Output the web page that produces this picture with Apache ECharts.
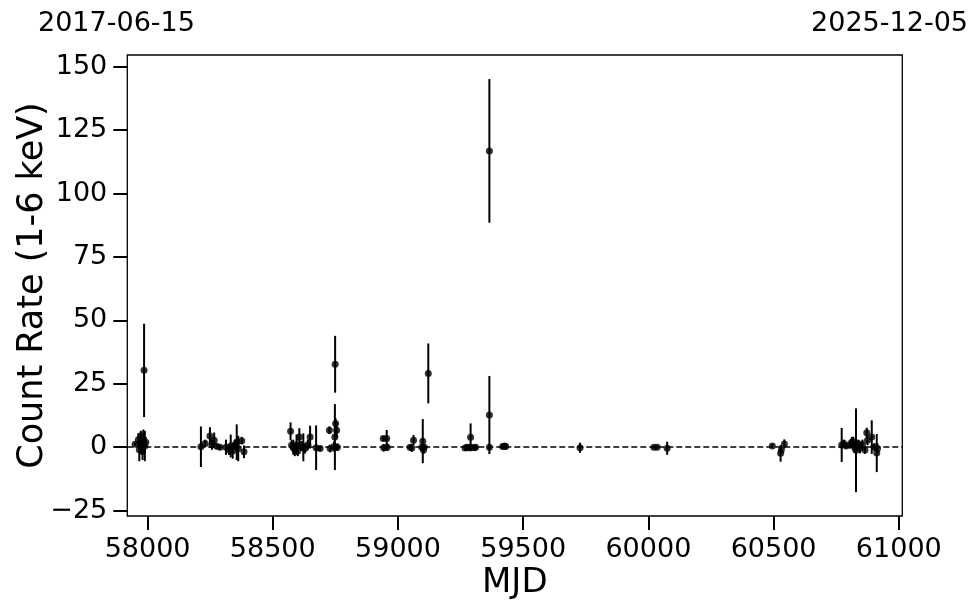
<!DOCTYPE html>
<html>
<head>
<meta charset="utf-8">
<script src="https://cdn.jsdelivr.net/npm/echarts@6/dist/echarts.min.js"></script>
<style>html,body{margin:0;padding:0;background:#fff;}#chart{width:980px;height:613px;}</style>
</head>
<body>
<div id="chart"></div>
<script>
// Observation times (MJD)
const mjd = [
  57950, 57963, 57967, 57970, 57973, 57976, 57980, 57983, 57986, 57989, 57993,
  58213, 58230, 58249, 58257, 58266, 58276, 58289,
  58313, 58325, 58332, 58340, 58349, 58356, 58362, 58376, 58385,
  58571, 58575, 58582, 58588, 58595, 58600, 58606, 58614, 58622, 58629, 58640, 58649, 58673, 58689,
  58726, 58729, 58745, 58748, 58749, 58751, 58755, 58758,
  58941, 58943, 58955, 58957,
  59048, 59055, 59062, 59095, 59099, 59102, 59105, 59121,
  59268, 59275, 59281, 59290, 59292, 59304, 59310,
  59365, 59365, 59365, 59418, 59425, 59430,
  59727, 60022, 60035, 60075,
  60495, 60528, 60531, 60543,
  60772, 60781, 60790, 60805, 60812, 60818, 60823, 60829, 60838, 60845, 60855, 60865, 60872, 60875, 60892, 60902, 60912, 60915
];
// Count rate (1-6 keV)
const rate = [
  1.2, 3.0, -1.0, 1.5, 4.5, 0.0, -1.5, 2.0, 30.3, 0.5, 2.0,
  0.2, 1.5, 4.4, 1.0, 2.8, 0.4, 0.0,
  0.0, -1.0, 0.5, -1.5, 1.0, 2.0, -0.5, 2.6, -1.8,
  6.3, 0.8, 0.0, -1.0, 1.0, -1.5, 4.0, 0.5, 0.0, -0.5, 1.0, 4.0, -0.2, -0.5,
  6.7, -0.5, 0.3, 4.0, 32.7, 9.4, 6.7, 0.0,
  3.4, -0.2, 3.4, 0.0,
  0.0, -0.3, 2.8, 0.0, 2.4, -1.1, 0.0, 29.1,
  -0.3, 0.0, -0.2, 3.9, 0.0, -0.2, 0.0,
  116.8, 12.7, 0.0, 0.3, 0.5, 0.3,
  -0.2, 0.0, 0.0, -0.4,
  0.5, -2.4, -1.1, 1.3,
  0.9, 1.5, 0.5, 1.0, 2.0, 2.2, 0.0, -1.2, 1.5, -0.4, 1.0, -1.1, 5.7, 2.8, 4.0, 0.1, -2.3, -0.5
];
// 1-sigma errors
const rateErr = [
  0.6, 2.5, 4.5, 3.0, 2.0, 3.0, 3.5, 5.0, 18.4, 6.0, 2.0,
  8.0, 1.5, 3.5, 2.0, 3.0, 1.0, 1.0,
  3.0, 2.0, 4.5, 3.0, 2.0, 7.0, 5.0, 1.5, 2.5,
  3.5, 2.0, 3.0, 2.5, 4.0, 2.0, 3.5, 2.0, 5.5, 2.0, 2.0, 4.5, 8.8, 1.0,
  1.5, 1.5, 2.0, 13.0, 11.2, 2.0, 3.0, 1.5,
  1.0, 1.5, 3.4, 1.5,
  1.0, 1.5, 2.0, 1.0, 8.7, 1.5, 1.0, 11.8,
  1.0, 1.0, 1.0, 5.5, 1.0, 0.8, 0.8,
  28.3, 15.4, 1.0, 1.0, 1.0, 1.2,
  2.0, 0.6, 0.6, 2.6,
  0.8, 3.3, 1.0, 1.8,
  6.7, 1.5, 1.0, 1.5, 2.0, 2.0, 2.0, 16.5, 1.5, 2.0, 2.0, 1.5, 2.0, 2.0, 6.6, 1.5, 7.5, 2.0
];
const xTicks = [58000, 58500, 59000, 59500, 60000, 60500, 61000];
const yTicks = [-25, 0, 25, 50, 75, 100, 125, 150];
const xRange = [57919, 61014];
const yRange = [-27.1, 154.6];
const dateLeft = '2017-06-15';
const dateRight = '2025-12-05';

const FONT = 'DejaVu Sans';
const pts = mjd.map((m, i) => [m, rate[i], rateErr[i]]);

const chart = echarts.init(document.getElementById('chart'), null, {renderer: 'canvas'});
chart.setOption({
  animation: false,
  backgroundColor: '#fff',
  grid: {left: 127.3, right: 77.7, top: 55, bottom: 97, containLabel: false, outerBoundsMode: 'none',
    show: true, borderColor: '#000', borderWidth: 1.3, backgroundColor: 'transparent'},
  xAxis: {
    type: 'value', min: xRange[0], max: xRange[1],
    name: 'MJD', nameLocation: 'middle', nameGap: 50, nameMoveOverlap: false,
    nameTextStyle: {fontFamily: FONT, fontSize: 34, color: '#000'},
    axisLine: {show: false, onZero: false},
    axisTick: {show: true, customValues: xTicks, length: 14, lineStyle: {color: '#000', width: 2}},
    axisLabel: {customValues: xTicks, fontFamily: FONT, fontSize: 27, color: '#000', margin: 20,
      formatter: v => String(v)},
    splitLine: {show: false}
  },
  yAxis: {
    type: 'value', min: yRange[0], max: yRange[1],
    name: 'Count Rate (1-6 keV)', nameLocation: 'middle', nameGap: 77, nameMoveOverlap: false,
    nameTextStyle: {fontFamily: FONT, fontSize: 35, color: '#000'},
    axisLine: {show: false, onZero: false},
    axisTick: {show: true, customValues: yTicks, length: 14, lineStyle: {color: '#000', width: 2}},
    axisLabel: {customValues: yTicks, fontFamily: FONT, fontSize: 27, color: '#000', margin: 20,
      formatter: v => (v < 0 ? '\u2212' + Math.abs(v) : String(v))},
    splitLine: {show: false}
  },
  graphic: [
    {type: 'text', left: 38, top: 10, style: {text: dateLeft, font: '27px "DejaVu Sans"', fill: '#000'}},
    {type: 'text', right: 12, top: 10, style: {text: dateRight, font: '27px "DejaVu Sans"', fill: '#000'}}
  ],
  series: [
    {
      type: 'custom',
      data: pts,
      encode: {x: 0, y: 1},
      z: 2,
      renderItem: function (params, api) {
        const x = api.value(0), y = api.value(1), e = api.value(2);
        const p1 = api.coord([x, y - e]);
        const p2 = api.coord([x, y + e]);
        return {type: 'line', shape: {x1: p1[0], y1: p1[1], x2: p2[0], y2: p2[1]}, style: {stroke: '#000', lineWidth: 2}};
      }
    },
    {
      type: 'scatter',
      data: pts.map(p => [p[0], p[1]]),
      symbol: 'circle',
      symbolSize: 7,
      itemStyle: {color: '#000'},
      z: 3,
      markLine: {
        silent: true,
        symbol: ['none', 'none'],
        label: {show: false},
        lineStyle: {color: '#000', type: [6, 3], width: 1.5},
        data: [{yAxis: 0}]
      }
    }
  ]
});
</script>
</body>
</html>
